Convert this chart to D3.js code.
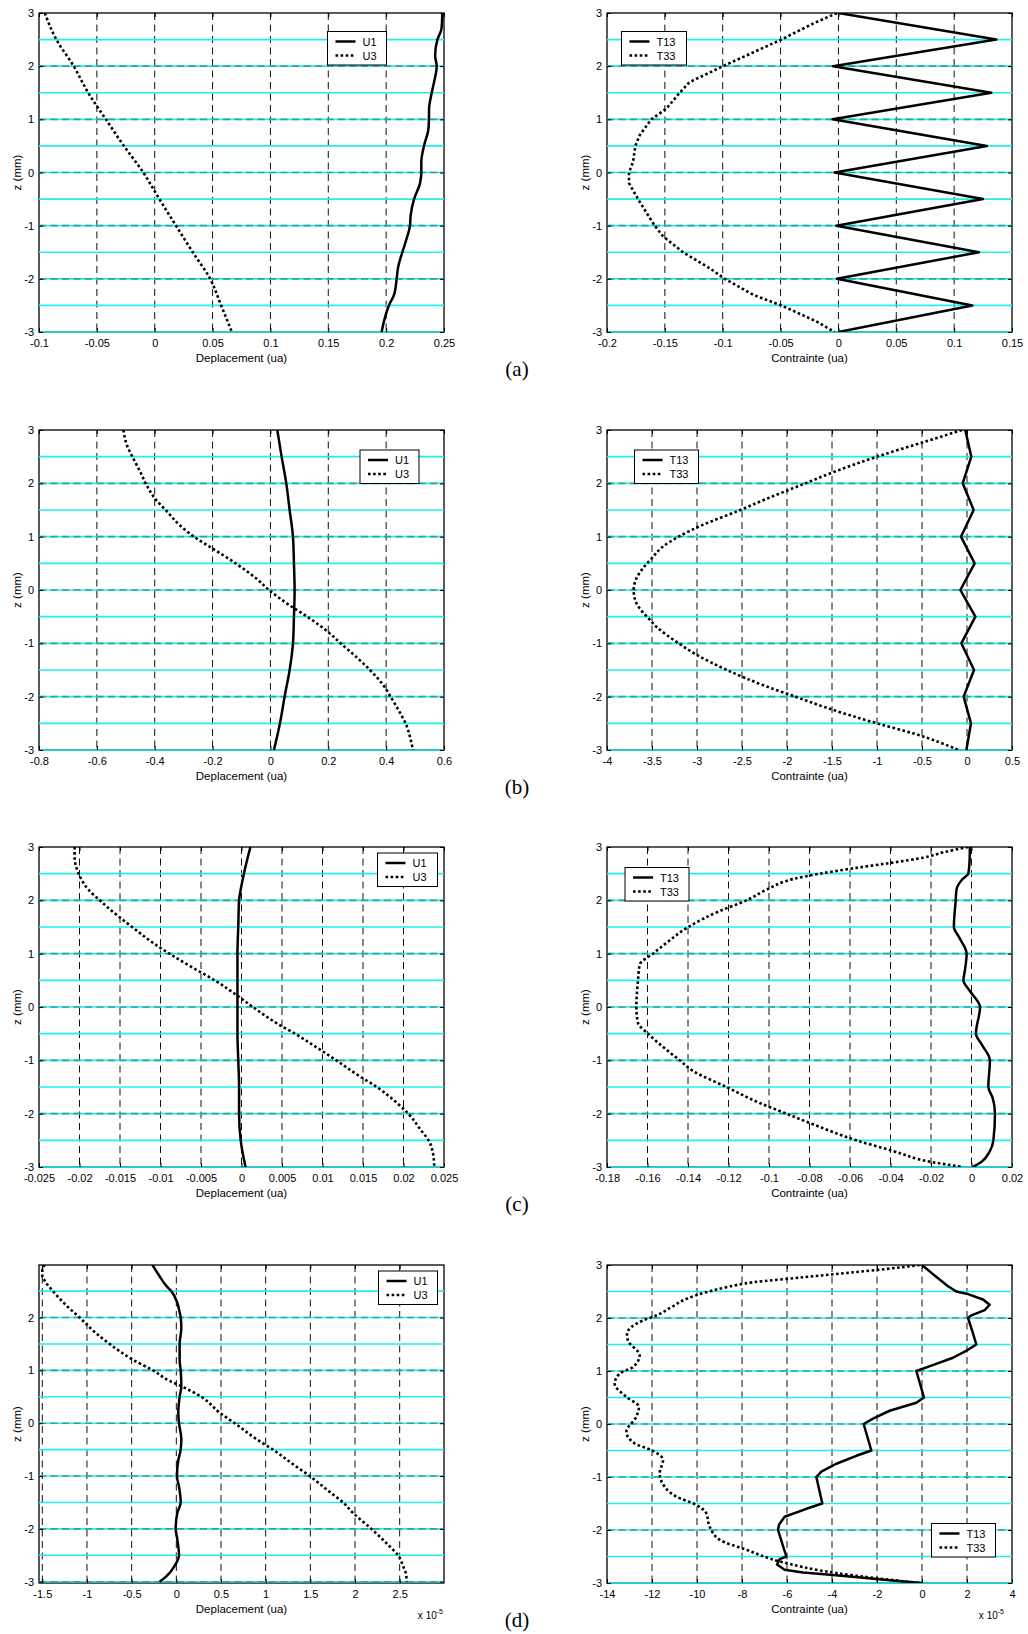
<!DOCTYPE html>
<html><head><meta charset="utf-8">
<script src="https://cdn.jsdelivr.net/npm/d3@7"></script>
<style>body{margin:0;background:#fff}svg{display:block}</style>
</head><body>
<svg id="c" width="1028" height="1634"></svg>
<script>
// ---------- shared ticks ----------
const zTicks = [-3,-2,-1,0,1,2,3];
const layerZ = [-3,-2.5,-2,-1.5,-1,-0.5,0,0.5,1,1.5,2,2.5];

// ---------- (a) ----------
const aL_xTicks = [-0.1,-0.05,0,0.05,0.1,0.15,0.2,0.25];
const aL_U1_z = [3,2.7,2.5,2.2,2,1.7,1.5,1.2,1,0.8,0.5,0.2,0,-0.2,-0.5,-0.8,-1,-1.3,-1.5,-1.8,-2,-2.3,-2.5,-2.8,-3];
const aL_U1   = [0.2486,0.2478,0.2443,0.2423,0.2437,0.2414,0.2394,0.2371,0.237,0.2364,0.2327,0.2304,0.2304,0.2293,0.2241,0.2212,0.2206,0.2169,0.214,0.2102,0.2091,0.2068,0.2024,0.1981,0.1961];
const aL_U3_z = [3,2.5,2,1.5,1,0.5,0,-0.5,-1,-1.5,-2,-2.5,-3];
const aL_U3   = [-0.095,-0.085,-0.07,-0.0575,-0.0422,-0.0266,-0.0099,0.004,0.0184,0.0329,0.0479,0.0574,0.0667];

const aR_xTicks = [-0.2,-0.15,-0.1,-0.05,0,0.05,0.1,0.15];
const aR_T13_z = [3,2.5,2,1.5,1,0.5,0,-0.5,-1,-1.5,-2,-2.5,-3];
const aR_T13   = [0,0.1364,-0.0047,0.1321,-0.005,0.1283,-0.0033,0.1249,-0.0018,0.1214,-0.0013,0.1157,0];
const aR_T33_z = [3,2.8,2.5,2.2,2,1.7,1.5,1.2,1,0.7,0.5,0.2,0,-0.2,-0.5,-0.8,-1,-1.2,-1.5,-1.8,-2,-2.3,-2.5,-2.8,-3];
const aR_T33   = [-0.0013,-0.022,-0.0494,-0.0796,-0.0998,-0.1286,-0.1372,-0.1487,-0.1617,-0.1718,-0.1755,-0.1775,-0.181,-0.181,-0.1732,-0.1646,-0.1588,-0.1516,-0.1343,-0.1113,-0.0983,-0.0738,-0.0494,-0.0191,-0.0033];

// ---------- (b) ----------
const bL_xTicks = [-0.8,-0.6,-0.4,-0.2,0,0.2,0.4,0.6];
const bL_U1_z = [3,2.5,2,1.5,1,0.5,0,-0.5,-1,-1.5,-2,-2.5,-3];
const bL_U1   = [0.0237,0.0387,0.0548,0.0664,0.0779,0.0813,0.0836,0.0813,0.0779,0.0664,0.049,0.033,0.0122];
const bL_U3_z = [3,2.7,2.5,2.2,2,1.7,1.5,1.2,1,0.8,0.5,0.2,0,-0.3,-0.5,-0.8,-1,-1.3,-1.5,-1.8,-2,-2.3,-2.5,-2.8,-3];
const bL_U3   = [-0.5085,-0.495,-0.4774,-0.4486,-0.4313,-0.3968,-0.3622,-0.3104,-0.2643,-0.2067,-0.1203,-0.0454,-0.005,0.07,0.1274,0.2023,0.2426,0.306,0.344,0.3924,0.4154,0.4477,0.4673,0.4846,0.4927];

const bR_xTicks = [-4,-3.5,-3,-2.5,-2,-1.5,-1,-0.5,0,0.5];
const bR_T13_z = [3,2.5,2,1.5,1,0.5,0,-0.5,-1,-1.5,-2,-2.5,-3];
const bR_T13   = [-0.019,0.048,-0.048,0.074,-0.067,0.085,-0.074,0.093,-0.063,0.078,-0.037,0.044,-0.007];
const bR_T33_z = [3,2.8,2.5,2.2,2,1.7,1.5,1.2,1,0.8,0.6,0.4,0.2,0,-0.2,-0.4,-0.5,-0.7,-1,-1.2,-1.5,-1.8,-2,-2.2,-2.5,-2.7,-3];
const bR_T33   = [-0.056,-0.43,-1.0,-1.5,-1.796,-2.241,-2.519,-2.963,-3.204,-3.389,-3.5,-3.604,-3.678,-3.704,-3.685,-3.611,-3.556,-3.444,-3.204,-3.019,-2.667,-2.241,-1.907,-1.574,-1.0,-0.574,-0.093];

// ---------- (c) ----------
const cL_xTicks = [-0.025,-0.02,-0.015,-0.01,-0.005,0,0.005,0.01,0.015,0.02,0.025];
const cL_U1_z = [3,2.7,2.5,2.2,2,1.5,1,0.5,0,-0.5,-1,-1.5,-2,-2.5,-2.7,-3];
const cL_U1   = [0.0011,0.0006,0.0003,-0.0001,-0.0003,-0.0004,-0.0005,-0.0005,-0.0005,-0.0005,-0.0004,-0.0003,-0.0003,-0.0001,0.0001,0.0005];
const cL_U3_z = [3,2.8,2.5,2.2,2,1.7,1.5,1.2,1,0.7,0.5,0.2,0,-0.3,-0.5,-0.8,-1,-1.3,-1.5,-1.8,-2,-2.3,-2.5,-2.8,-3];
const cL_U3   = [-0.0206,-0.0206,-0.0201,-0.0189,-0.0175,-0.0152,-0.0135,-0.0109,-0.0089,-0.0056,-0.0033,-0.0004,0.0014,0.0043,0.0066,0.0097,0.0117,0.0146,0.0167,0.0192,0.0206,0.0221,0.0231,0.0237,0.0238];

const cR_xTicks = [-0.18,-0.16,-0.14,-0.12,-0.1,-0.08,-0.06,-0.04,-0.02,0,0.02];
const cR_T13_z = [3,2.7,2.5,2.4,2.2,2,1.5,1.3,1,0.7,0.5,0.3,0,-0.5,-0.7,-1,-1.5,-1.7,-2,-2.5,-2.7,-2.9,-3];
const cR_T13   = [-0.0008,-0.001,-0.0016,-0.0044,-0.0074,-0.0078,-0.0087,-0.006,-0.0024,-0.0032,-0.004,-0.0008,0.0042,0.0022,0.005,0.0091,0.0083,0.0104,0.0116,0.0108,0.0091,0.005,0.0006];
const cR_T33_z = [3,2.9,2.8,2.7,2.6,2.5,2.4,2.2,2,1.8,1.5,1.2,1,0.8,0.5,0,-0.3,-0.5,-0.8,-1,-1.2,-1.5,-1.8,-2,-2.2,-2.5,-2.7,-2.9,-3];
const cR_T33   = [-0.0016,-0.0139,-0.0238,-0.0403,-0.0584,-0.0749,-0.088,-0.1012,-0.1111,-0.1243,-0.1399,-0.1507,-0.1573,-0.1638,-0.1647,-0.1655,-0.1647,-0.1597,-0.1507,-0.1441,-0.1375,-0.121,-0.1046,-0.0914,-0.0782,-0.0568,-0.0387,-0.0206,-0.0041];

// ---------- (d) values in units of 1e-5 ----------
const dL_xTicks = [-1.5,-1,-0.5,0,0.5,1,1.5,2,2.5];
const dL_U1_z = [3,2.8,2.6,2.5,2.3,2.1,2,1.8,1.5,1.2,1,0.7,0.5,0.2,0,-0.3,-0.5,-0.7,-1,-1.2,-1.5,-1.7,-2,-2.2,-2.5,-2.7,-2.9,-3];
const dL_U1   = [-0.269,-0.194,-0.112,-0.056,0.007,0.037,0.049,0.056,0.037,0.037,0.049,0.056,0.037,0.022,0.03,0.056,0.049,0.022,0.007,0.03,0.049,0.011,-0.007,0.011,0.03,-0.019,-0.112,-0.187];
const dL_U3_z = [3,2.9,2.8,2.7,2.5,2.2,2,1.7,1.5,1.2,1,0.8,0.7,0.5,0.2,0,-0.3,-0.5,-0.8,-1,-1.3,-1.5,-1.7,-2,-2.3,-2.5,-2.7,-2.9,-3];
const dL_U3   = [-1.474,-1.5,-1.5,-1.474,-1.381,-1.213,-1.082,-0.896,-0.746,-0.485,-0.261,-0.075,0.056,0.28,0.485,0.653,0.896,1.082,1.325,1.493,1.716,1.866,1.978,2.183,2.369,2.481,2.537,2.575,2.575];

const dR_xTicks = [-14,-12,-10,-8,-6,-4,-2,0,2,4];
const dR_T13_z = [3,2.8,2.6,2.5,2.45,2.35,2.25,2.15,2.05,2,1.75,1.5,1.4,1.25,1.1,1,0.5,0.4,0.25,0.1,0,-0.5,-0.6,-0.75,-0.9,-1,-1.5,-1.6,-1.75,-1.9,-2,-2.5,-2.55,-2.65,-2.75,-2.8,-2.85,-2.9,-2.95,-3];
const dR_T13   = [0,0.563,1.156,1.526,2.044,2.711,3.007,2.785,2.193,2.044,2.237,2.415,2.044,1.378,0.415,-0.252,0.089,-0.252,-1.437,-2.178,-2.593,-2.252,-2.919,-3.807,-4.474,-4.696,-4.43,-5.141,-6.104,-6.356,-6.4,-6.03,-6.326,-6.444,-6.104,-5.289,-3.956,-2.622,-1.437,0];
const dR_T33_z = [3,2.925,2.862,2.768,2.674,2.58,2.486,2.361,2.204,2.047,1.953,1.828,1.702,1.577,1.295,1.075,0.95,0.762,0.511,0.323,0.135,-0.147,-0.367,-0.492,-0.68,-0.931,-1.182,-1.37,-1.527,-1.683,-1.934,-2.185,-2.373,-2.592,-2.812,-3];
const dR_T33   = [-0.1,-1.59,-3.07,-5.29,-7.51,-8.7,-9.59,-10.47,-11.14,-11.81,-12.4,-12.92,-13.11,-13.07,-12.55,-12.84,-13.44,-13.66,-13.14,-12.58,-12.7,-13.14,-12.77,-12.03,-11.51,-11.66,-11.44,-10.92,-10.03,-9.59,-9.44,-8.99,-7.81,-6.33,-3.81,-0.1];

// ---------- layout ----------
const DEP = 'Deplacement (ua)', CON = 'Contrainte (ua)';
const L = [39,444], R = [607,1012];
const rows = [[13,332],[430,750],[847,1167],[1265,1583]];
const panels = [
 {c:L,r:rows[0],xd:[-0.1,0.25],yd:[-3,3],xt:aL_xTicks,title:DEP,s:[['U1',aL_U1_z,aL_U1,0],['U3',aL_U3_z,aL_U3,1]],lg:[327.5,31.5,59]},
 {c:R,r:rows[0],xd:[-0.2,0.15],yd:[-3,3],xt:aR_xTicks,title:CON,s:[['T13',aR_T13_z,aR_T13,0,1],['T33',aR_T33_z,aR_T33,1,1]],lg:[621.5,31.5,65]},
 {c:L,r:rows[1],xd:[-0.8,0.6],yd:[-3,3],xt:bL_xTicks,title:DEP,s:[['U1',bL_U1_z,bL_U1,0],['U3',bL_U3_z,bL_U3,1]],lg:[360,450,59]},
 {c:R,r:rows[1],xd:[-4,0.5],yd:[-3,3],xt:bR_xTicks,title:CON,s:[['T13',bR_T13_z,bR_T13,0,1],['T33',bR_T33_z,bR_T33,1]],lg:[634.5,450,64]},
 {c:L,r:rows[2],xd:[-0.025,0.025],yd:[-3,3],xt:cL_xTicks,title:DEP,s:[['U1',cL_U1_z,cL_U1,0],['U3',cL_U3_z,cL_U3,1]],lg:[377.5,853,60]},
 {c:R,r:rows[2],xd:[-0.18,0.02],yd:[-3,3],xt:cR_xTicks,title:CON,s:[['T13',cR_T13_z,cR_T13,0],['T33',cR_T33_z,cR_T33,1]],lg:[625,867.5,64]},
 {c:L,r:rows[3],xd:[-1.537,2.996],yd:[-3.025,2.995],xt:dL_xTicks,title:DEP,exp:443,s:[['U1',dL_U1_z,dL_U1,0],['U3',dL_U3_z,dL_U3,1]],lg:[378.5,1271,59]},
 {c:R,r:rows[3],xd:[-14,4],yd:[-3,3],xt:dR_xTicks,title:CON,exp:1004,s:[['T13',dR_T13_z,dR_T13,0,1],['T33',dR_T33_z,dR_T33,1]],lg:[931.5,1523.5,64]}
];
const labels = ['(a)','(b)','(c)','(d)'];

const SANS = '"Liberation Sans", Arial, sans-serif';
const svg = d3.select('#c');
const defs = svg.append('defs');
const inside = (v,d)=> v>d[0]+1e-9 && v<d[1]-1e-9;
const within = (v,d)=> v>=d[0]-1e-9 && v<=d[1]+1e-9;

panels.forEach((p,i)=>{
  const [x0,x1]=p.c, [y0,y1]=p.r;
  const x = d3.scaleLinear().domain(p.xd).range([x0,x1]);
  const y = d3.scaleLinear().domain(p.yd).range([y1,y0]);
  const g = svg.append('g');
  const cid='clip'+i;
  defs.append('clipPath').attr('id',cid).append('rect')
    .attr('x',x0).attr('y',y0).attr('width',x1-x0).attr('height',y1-y0);

  // vertical dashed grid
  g.append('g').selectAll('line').data(p.xt.filter(v=>inside(v,p.xd))).enter().append('line')
    .attr('x1',d=>x(d)).attr('x2',d=>x(d)).attr('y1',y0).attr('y2',y1)
    .attr('stroke','#111').attr('stroke-width',1).attr('stroke-dasharray','7,4.5');

  // box
  g.append('rect').attr('x',x0).attr('y',y0).attr('width',x1-x0).attr('height',y1-y0)
    .attr('fill','none').attr('stroke','#000').attr('stroke-width',1.3);

  // cyan layer interfaces
  g.append('g').selectAll('line').data(layerZ.filter(v=>within(v,p.yd))).enter().append('line')
    .attr('x1',x0).attr('x2',x1).attr('y1',d=>y(d)).attr('y2',d=>y(d))
    .attr('stroke','#22eeee').attr('stroke-width',1.6);
  // horizontal dashed grid on top of cyan
  g.append('g').selectAll('line').data(zTicks.filter(v=>inside(v,p.yd))).enter().append('line')
    .attr('x1',x0).attr('x2',x1).attr('y1',d=>y(d)).attr('y2',d=>y(d))
    .attr('stroke','#3a9e9e').attr('stroke-width',1.6).attr('stroke-dasharray','7,4.5');

  // axes
  const yt = zTicks.filter(v=>within(v,p.yd));
  const styleAxis = a => { a.select('.domain').remove(); a.selectAll('text').attr('font-family',SANS).attr('font-size',11).attr('fill','#000'); a.selectAll('line').attr('stroke','#000'); };
  g.append('g').attr('transform',`translate(0,${y1})`)
    .call(d3.axisBottom(x).tickValues(p.xt).tickSizeInner(-4).tickSizeOuter(0).tickPadding(7).tickFormat(d=>String(d))).call(styleAxis);
  g.append('g').attr('transform',`translate(0,${y0})`)
    .call(d3.axisTop(x).tickValues(p.xt).tickSizeInner(-4).tickSizeOuter(0).tickFormat('')).call(styleAxis);
  g.append('g').attr('transform',`translate(${x0},0)`)
    .call(d3.axisLeft(y).tickValues(yt).tickSizeInner(-4).tickSizeOuter(0).tickPadding(5).tickFormat(d=>String(d))).call(styleAxis);
  g.append('g').attr('transform',`translate(${x1},0)`)
    .call(d3.axisRight(y).tickValues(yt).tickSizeInner(-4).tickSizeOuter(0).tickFormat('')).call(styleAxis);

  // titles
  g.append('text').attr('x',(x0+x1)/2).attr('y',y1+30).attr('text-anchor','middle')
    .attr('font-family',SANS).attr('font-size',11.5).text(p.title);
  g.append('text').attr('transform',`translate(${x0-18},${(y0+y1)/2}) rotate(-90)`).attr('text-anchor','middle')
    .attr('font-family',SANS).attr('font-size',11.5).text('z (mm)');
  if(p.exp){
    const t = g.append('text').attr('x',p.exp).attr('y',y1+36).attr('text-anchor','end')
      .attr('font-family',SANS).attr('font-size',10);
    t.append('tspan').text('x 10');
    t.append('tspan').attr('font-size',7).attr('dy',-5).text('-5');
  }

  // data
  const dg = g.append('g').attr('clip-path',`url(#${cid})`);
  p.s.forEach(s=>{
    const [name,zs,vs,dotted,lin]=s;
    const pts = zs.map((z,k)=>[vs[k],z]);
    const line = d3.line().x(d=>x(d[0])).y(d=>y(d[1])).curve(lin?d3.curveLinear:d3.curveMonotoneY);
    dg.append('path').attr('d',line(pts)).attr('fill','none').attr('stroke','#000')
      .attr('stroke-width',dotted?2.6:2.5).attr('stroke-dasharray',dotted?'2.6,2.5':null)
      .attr('stroke-linejoin','round');
  });

  // legend
  const [lx,ly,lw]=p.lg;
  const lg = g.append('g').attr('transform',`translate(${lx},${ly})`);
  lg.append('rect').attr('width',lw).attr('height',33.5).attr('fill','#fff').attr('stroke','#000').attr('stroke-width',1);
  p.s.forEach((s,k)=>{
    const yy = 10+14*k;
    lg.append('line').attr('x1',8).attr('x2',28).attr('y1',yy).attr('y2',yy).attr('stroke','#000')
      .attr('stroke-width',s[3]?2.6:2.5).attr('stroke-dasharray',s[3]?'2.6,2.5':null);
    lg.append('text').attr('x',35).attr('y',yy+4).attr('font-family',SANS).attr('font-size',11).text(s[0]);
  });
});

rows.forEach((r,i)=>{
  svg.append('text').attr('x',517).attr('y',r[1]+44).attr('text-anchor','middle')
    .attr('font-family','"Liberation Serif", "Times New Roman", serif').attr('font-size',21).text(labels[i]);
});
</script>
</body></html>
